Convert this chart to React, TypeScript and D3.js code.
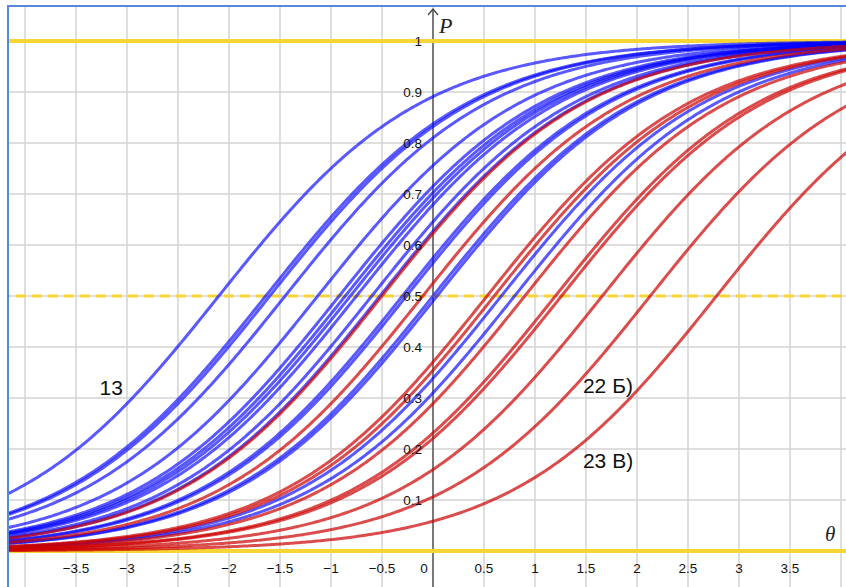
import React from "react";
import { scaleLinear, line, range } from "d3";

// item difficulties (b), Rasch curves P = 1/(1+e^-(θ-b))
const blueItems = [-2.1, -1.64, -1.6, -1.45, -1.13, -0.92, -0.86, -0.81, -0.75, -0.6, -0.52, -0.3, -0.26, 0.0, 0.04, 0.67, 0.8];
const redItems = [-0.5, -0.1, 0.53, 0.6, 0.9, 1.2, 1.26, 1.66, 2.13, 2.78];

const xTicks = [-3.5, -3, -2.5, -2, -1.5, -1, -0.5, 0.5, 1, 1.5, 2, 2.5, 3, 3.5];
const yTicks = [0.1, 0.2, 0.3, 0.4, 0.5, 0.6, 0.7, 0.8, 0.9, 1];
const xGrid = range(-4, 4.01, 0.5);
const yGrid = range(-0.1, 1.01, 0.1);

const labels = [
  { text: "13", theta: -3.27, p: 0.305 },
  { text: "22 Б)", theta: 1.47, p: 0.31 },
  { text: "23 В)", theta: 1.47, p: 0.163 },
];

const fmt = (v: number) => (v < 0 ? "\u2212" + String(-v) : String(v));

export default function App() {
  const width = 846,
    height = 587,
    frame = { left: 8, top: 6 },
    x = scaleLinear().domain([-4, 4]).range([25, 841]),
    y = scaleLinear().domain([0, 1]).range([551, 41]),
    thetas = range(-4.3, 4.2, 0.02),
    yellow = "#f6d535",
    font = "'Liberation Sans', Arial, sans-serif";

  const curve = (b: number) =>
    line<number>()
      .x((t) => x(t))
      .y((t) => y(1 / (1 + Math.exp(-(t - b)))))(thetas) || "";

  return (
    <svg
      width={width}
      height={height}
      style={{ position: "absolute", left: 0, top: 0, background: "#fff" }}
    >
      <defs>
        <clipPath id="plot">
          <rect x={frame.left} y={frame.top} width={width} height={height} />
        </clipPath>
      </defs>
      <g clipPath="url(#plot)">
        {xGrid.map((t) => (
          <line key={"gx" + t} x1={x(t)} x2={x(t)} y1={0} y2={height} stroke="#d3d3d3" strokeWidth={1.5} />
        ))}
        {yGrid.map((p) => (
          <line key={"gy" + p} x1={0} x2={width} y1={y(p)} y2={y(p)} stroke="#d3d3d3" strokeWidth={1.5} />
        ))}

        <line x1={x(0)} x2={x(0)} y1={9} y2={height} stroke="#444" strokeWidth={1.3} />
        <path d={`M${x(0) - 5},${15} L${x(0)},${9} L${x(0) + 5},${15}`} fill="none" stroke="#444" strokeWidth={1.3} />

        <line x1={0} x2={width} y1={y(1)} y2={y(1)} stroke={yellow} strokeWidth={4} />
        <line x1={0} x2={width} y1={y(0)} y2={y(0)} stroke={yellow} strokeWidth={4} />
        <line x1={0} x2={width} y1={y(0.5)} y2={y(0.5)} stroke={yellow} strokeWidth={3} strokeDasharray="10,6" />

        {blueItems.map((b, i) => (
          <path key={"b" + i} d={curve(b)} fill="none" stroke="#0000ff" strokeOpacity={0.65} strokeWidth={3} />
        ))}
        {redItems.map((b, i) => (
          <path key={"r" + i} d={curve(b)} fill="none" stroke="#cc0000" strokeOpacity={0.7} strokeWidth={3} />
        ))}

        {xTicks.map((t) => (
          <text key={"xt" + t} x={x(t)} y={573} textAnchor="middle" fontSize={13.5} fontFamily={font} fill="#111">
            {fmt(t)}
          </text>
        ))}
        <text x={x(0) - 9} y={573} textAnchor="middle" fontSize={13.5} fontFamily={font} fill="#111">0</text>
        {yTicks.map((p) => (
          <text key={"yt" + p} x={x(0) - 11} y={y(p)} dy="0.35em" textAnchor="end" fontSize={13.5} fontFamily={font} fill="#111">
            {fmt(p)}
          </text>
        ))}

        <text x={439} y={33} fontSize={22} fontStyle="italic" fontFamily="'Liberation Serif', 'Times New Roman', serif" fill="#222">P</text>
        <text x={825} y={541} fontSize={21} fontStyle="italic" fontFamily="'Liberation Serif', 'Times New Roman', serif" fill="#222">θ</text>

        {labels.map((l) => (
          <text key={l.text} x={x(l.theta)} y={y(l.p)} fontSize={21} fontFamily={font} fill="#111">
            {l.text}
          </text>
        ))}
      </g>
      <path d={`M${frame.left},${height} V${frame.top} H${width}`} fill="none" stroke="#5b87d8" strokeWidth={2} />
    </svg>
  );
}
